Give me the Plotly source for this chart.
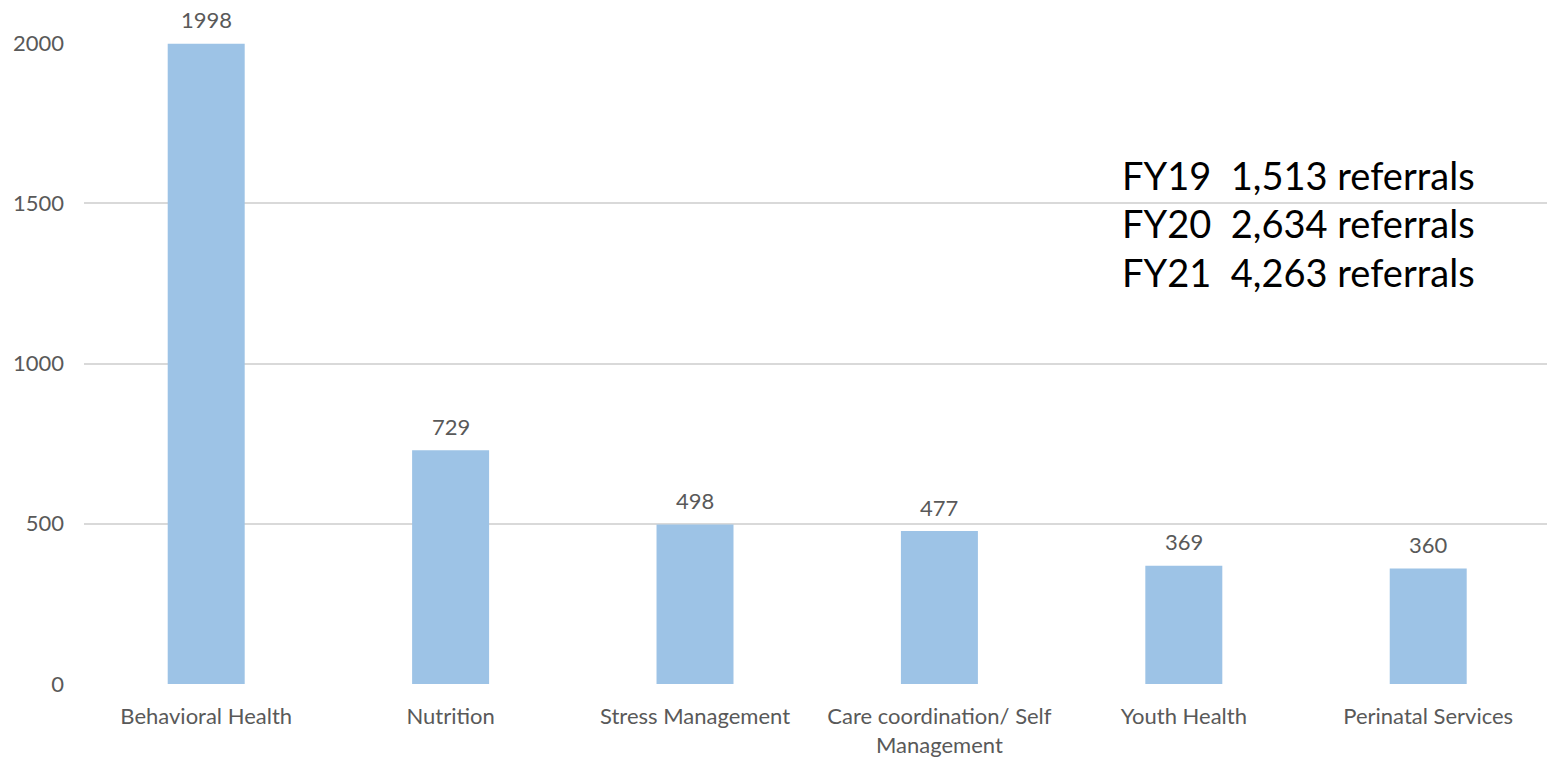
import plotly.graph_objects as go

categories = ["Behavioral Health", "Nutrition", "Stress Management",
              "Care coordination/ Self<br>Management", "Youth Health", "Perinatal Services"]
values = [1998, 729, 498, 477, 369, 360]
summary_lines = ["FY19  1,513 referrals", "FY20  2,634 referrals", "FY21  4,263 referrals"]
y_ticks = [0, 500, 1000, 1500, 2000]

FONT = "Lato, Calibri, Carlito, sans-serif"
GRAY = "#595959"
FS = 22

fig = go.Figure()
fig.add_trace(go.Bar(
    x=list(range(len(categories))), y=values,
    marker=dict(color="#9DC3E6", line=dict(width=0)),
    width=0.315,
    hoverinfo="skip",
))

for i, v in enumerate(values):
    fig.add_annotation(x=i, y=v, text=str(v), showarrow=False, yshift=24,
                       font=dict(family=FONT, size=FS, color=GRAY))

W, H = 1547, 757
ml, mr, mt, mb = 84, 0, 43, 73
for j, line in enumerate(summary_lines):
    ypx = 175 + j * 48.5
    fig.add_annotation(xref="paper", yref="paper",
                       x=(1120 - ml) / (W - ml - mr),
                       y=1 - (ypx - mt) / (H - mt - mb),
                       xanchor="left", yanchor="middle", showarrow=False,
                       text=line.replace("  ", "&nbsp;&nbsp;"),
                       font=dict(family=FONT, size=38, color="#000000"))

fig.update_layout(
    width=W, height=H,
    margin=dict(l=ml, r=mr, t=mt, b=mb),
    paper_bgcolor="white", plot_bgcolor="white",
    showlegend=False,
    font=dict(family=FONT, size=FS, color=GRAY),
    xaxis=dict(tickmode="array", tickvals=list(range(len(categories))), ticktext=categories,
               range=[-0.5, 5.486], showgrid=False, zeroline=False,
               showline=False, ticks="", ticklabelstandoff=17,
               tickfont=dict(size=FS, color=GRAY)),
    yaxis=dict(range=[0, 2000], tickvals=y_ticks, showgrid=True, gridcolor="#D9D9D9",
               gridwidth=2, zeroline=False, showline=False, ticks="",
               ticklabelstandoff=19, tickfont=dict(size=FS, color=GRAY)),
)
fig.write_html("out.html")
